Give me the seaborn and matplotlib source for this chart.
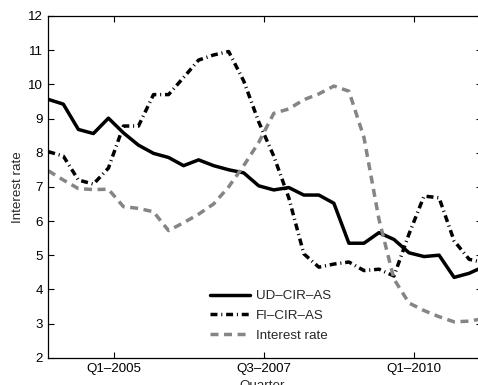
import matplotlib
matplotlib.use("Agg")
import matplotlib.pyplot as plt
import numpy as np
import pandas as pd
import seaborn as sns

# Quarterly series (index 0 = first quarter in the sample)
quarter_idx = list(range(30))

ud_cir_as = [9.56, 9.42, 8.68, 8.56, 9.01, 8.58, 8.22, 7.98, 7.86, 7.62,
             7.79, 7.62, 7.50, 7.41, 7.03, 6.91, 6.98, 6.76, 6.76, 6.52,
             5.35, 5.35, 5.66, 5.46, 5.07, 4.96, 5.00, 4.35, 4.47, 4.67]

fi_cir_as = [8.03, 7.90, 7.20, 7.08, 7.55, 8.78, 8.78, 9.70, 9.70, 10.20,
             10.71, 10.86, 10.96, 10.10, 8.90, 7.90, 6.68, 5.04, 4.65, 4.74,
             4.80, 4.55, 4.59, 4.39, 5.62, 6.73, 6.68, 5.42, 4.88, 4.78]

interest_rate = [7.47, 7.20, 6.95, 6.92, 6.93, 6.42, 6.37, 6.27, 5.72, 5.95,
                 6.20, 6.50, 7.00, 7.62, 8.30, 9.15, 9.28, 9.55, 9.72, 9.95,
                 9.80, 8.45, 6.05, 4.30, 3.60, 3.38, 3.20, 3.05, 3.07, 3.15]

series_names = ["UD\u2013CIR\u2013AS", "FI\u2013CIR\u2013AS", "Interest rate"]

tick_pos = [4.35, 14.35, 24.35]
tick_labels = ["Q1\u20132005", "Q3\u20132007", "Q1\u20132010"]
y_ticks = list(range(2, 13))

sns.set_style("ticks")
plt.rcParams["font.family"] = ["Liberation Sans", "DejaVu Sans"]
plt.rcParams["font.size"] = 9.6

W, H = 478, 385
fig = plt.figure(figsize=(W / 100, H / 100), dpi=100)
ax = fig.add_axes([48.3 / W, (H - 357.7) / H, (482 - 48.3) / W, (357.7 - 16) / H])

df = pd.DataFrame({"q": quarter_idx,
                   series_names[0]: ud_cir_as,
                   series_names[1]: fi_cir_as,
                   series_names[2]: interest_rate})

lw = 2.5
sns.lineplot(data=df, x="q", y=series_names[0], ax=ax, color="black",
             lw=lw, linestyle="-", label=series_names[0])
sns.lineplot(data=df, x="q", y=series_names[1], ax=ax, color="black",
             lw=lw, linestyle=(0, (2.0, 1.1, 0.3, 1.1)), label=series_names[1])
sns.lineplot(data=df, x="q", y=series_names[2], ax=ax, color="#858585",
             lw=lw, linestyle=(0, (2.3, 1.6)), label=series_names[2])

ax.set_xlim(0, (482 - 48.3) / 15.03)
ax.set_ylim(2, 12)
ax.set_xticks(tick_pos)
ax.set_xticklabels(tick_labels)
ax.set_yticks(y_ticks)
ax.tick_params(direction="in", top=True, right=True, length=4, width=0.8,
               pad=4, labelsize=9.6, colors="black")
for s in ax.spines.values():
    s.set_linewidth(0.9)
    s.set_color("black")

ax.set_xlabel("Quarter", fontsize=9.6)
ax.set_ylabel("Interest rate", fontsize=9.6)
ax.xaxis.set_label_coords((262 - 48.3) / (482 - 48.3), -(380.5 - 357.7) / (357.7 - 16))
ax.yaxis.set_label_coords((24 - 48.3) / (482 - 48.3), 0.5)

leg = ax.legend(loc="upper left", bbox_to_anchor=(210 / W, (H - 290) / H),
                bbox_transform=fig.transFigure, frameon=False,
                handlelength=3.0, handletextpad=0.45, labelspacing=0.55,
                borderpad=0, borderaxespad=0, fontsize=9.6)

fig.savefig("out.png", dpi=100)
